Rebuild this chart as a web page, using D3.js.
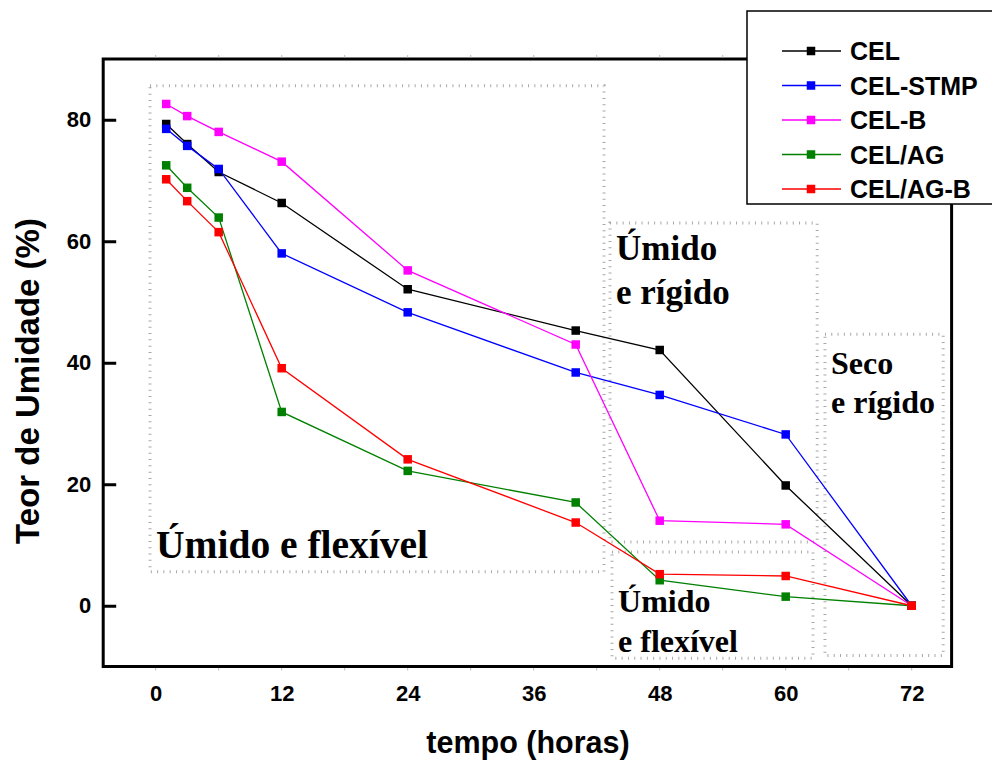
<!DOCTYPE html>
<html>
<head>
<meta charset="utf-8">
<script src="https://cdn.jsdelivr.net/npm/d3@7"></script>
<style>
  html, body { margin: 0; padding: 0; background: #fff; }
  svg { display: block; }
  .tickTxt { font-family: "Liberation Sans", Arial, sans-serif; font-weight: bold; font-size: 22px; fill: #000; }
  .axisTitle { font-family: "Liberation Sans", Arial, sans-serif; font-weight: bold; fill: #000; }
  .legTxt { font-family: "Liberation Sans", Arial, sans-serif; font-weight: bold; font-size: 25px; fill: #000; }
  .noteTxt { font-family: "Liberation Serif", "Times New Roman", serif; font-weight: bold; fill: #000; }
</style>
</head>
<body>
<div id="chart_div"></div>
<script>
// time points (horas)
var horas = [1, 3, 6, 12, 24, 40, 48, 60, 72];

// series names / colours
var seriesNames = ["CEL", "CEL-STMP", "CEL-B", "CEL/AG", "CEL/AG-B"];
var seriesColors = ["#000000", "#0000ff", "#ff00ff", "#008000", "#ff0000"];

// Teor de Umidade (%)
var celVals     = [79.3, 76.0, 71.4, 66.3, 52.1, 45.3, 42.1, 19.8, 0];
var celStmpVals = [78.5, 75.7, 71.9, 58.0, 48.3, 38.4, 34.7, 28.2, 0];
var celBVals    = [82.6, 80.6, 78.0, 73.1, 55.2, 43.0, 14.0, 13.4, 0];
var celAgVals   = [72.5, 68.8, 63.9, 31.9, 22.2, 17.0, 4.2, 1.5, 0];
var celAgBVals  = [70.2, 66.6, 61.5, 39.1, 24.1, 13.7, 5.2, 4.9, 0];

// axis ticks
var xTickVals = [0, 12, 24, 36, 48, 60, 72];
var xMinorVals = [0, 6, 12, 18, 24, 30, 36, 42, 48, 54, 60, 66, 72];
var yTickVals = [0, 20, 40, 60, 80];

// region boxes [x0, x1, y0(top), y1(bottom)] in data units, and their labels
var boxExtents = [
  [-0.54, 42.7, 85.6, 5.6],
  [43.27, 63.0, 63.0, 10.5],
  [43.46, 62.6, 8.85, -8.66],
  [63.74, 75.0, 44.7, -8.2]
];
var boxLabels = [
  ["Úmido e flexível"],
  ["Úmido", "e rígido"],
  ["Úmido", "e flexível"],
  ["Seco", "e rígido"]
];

(function () {
  'use strict'
  drawMoistureChart();
})()

function drawMoistureChart(){
  var allVals = [celVals, celStmpVals, celBVals, celAgVals, celAgBVals];

  var svg = d3.select("#chart_div").append("svg")
      .attr("width", 992)
      .attr("height", 760);

  var x = d3.scaleLinear().domain([-5, 75.8]).range([103.2, 951.6]);
  var y = d3.scaleLinear().domain([-10, 90]).range([666.5, 59]);

  // region boxes (gray tick-mark borders)
  var boxG = svg.append("g").attr("class", "boxG");
  boxExtents.forEach(function(b, i){
    boxG.append("rect")
      .attr("x", x(b[0]))
      .attr("y", y(b[2]))
      .attr("width", x(b[1]) - x(b[0]))
      .attr("height", y(b[3]) - y(b[2]))
      .attr("fill", "none")
      .attr("stroke", "#a8a8a8")
      .attr("stroke-width", 3)
      .attr("stroke-dasharray", "1,5.3");
  });

  // region labels
  var noteSizes = [39.5, 35, 32, 32];
  var noteFirstBase = [558, 260, 612, 374];
  var noteStep = [0, 44, 40, 39];
  boxLabels.forEach(function(lines, i){
    var t = svg.append("text")
      .attr("class", "noteTxt")
      .style("font-size", noteSizes[i] + "px");
    lines.forEach(function(s, j){
      t.append("tspan")
        .attr("x", x(boxExtents[i][0]) + 6)
        .attr("y", noteFirstBase[i] + j * noteStep[i])
        .text(s);
    });
  });

  // frame
  svg.append("rect")
    .attr("x", x(-5))
    .attr("y", y(90))
    .attr("width", x(75.8) - x(-5))
    .attr("height", y(-10) - y(90))
    .attr("fill", "none")
    .attr("stroke", "#000")
    .attr("stroke-width", 3);

  // faint minor ticks on top and bottom
  var minorG = svg.append("g").attr("class", "minorG");
  minorG.selectAll(".minB").data(xMinorVals).enter().append("line")
    .attr("x1", function(d){ return x(d); })
    .attr("x2", function(d){ return x(d); })
    .attr("y1", y(-10) + 1.5).attr("y2", y(-10) + 4)
    .attr("stroke", "#bbbbbb").attr("stroke-width", 1);
  minorG.selectAll(".minT").data(xMinorVals).enter().append("line")
    .attr("x1", function(d){ return x(d); })
    .attr("x2", function(d){ return x(d); })
    .attr("y1", y(90) - 1.5).attr("y2", y(90) - 4)
    .attr("stroke", "#bbbbbb").attr("stroke-width", 1);

  // left axis
  var leftAxis = svg.append("g")
    .attr("class", "d3LeftAxis")
    .attr("transform", "translate(" + x(-5) + ",0)")
    .call(d3.axisLeft(y).tickValues(yTickVals).tickSizeInner(-13).tickSizeOuter(0).tickPadding(12));
  leftAxis.selectAll(".domain").remove();
  leftAxis.selectAll(".tick line").attr("stroke", "#000").attr("stroke-width", 3);
  leftAxis.selectAll(".tick text").attr("class", "tickTxt");
  leftAxis.attr("font-size", null).attr("font-family", null);

  // bottom axis
  var bottomAxis = svg.append("g")
    .attr("class", "d3BottomAxis")
    .attr("transform", "translate(0," + y(-10) + ")")
    .call(d3.axisBottom(x).tickValues(xTickVals).tickSize(0).tickPadding(19));
  bottomAxis.selectAll(".domain").remove();
  bottomAxis.selectAll(".tick text").attr("class", "tickTxt");
  bottomAxis.attr("font-size", null).attr("font-family", null);

  // axis titles
  svg.append("text")
    .attr("class", "axisTitle")
    .attr("x", 528).attr("y", 753)
    .attr("text-anchor", "middle")
    .style("font-size", "30.5px")
    .text("tempo (horas)");

  svg.append("text")
    .attr("class", "axisTitle")
    .attr("transform", "translate(39,381) rotate(-90)")
    .attr("text-anchor", "middle")
    .style("font-size", "33px")
    .text("Teor de Umidade (%)");

  // series lines + markers
  var line = d3.line()
    .x(function(d){ return x(d.h); })
    .y(function(d){ return y(d.v); });

  allVals.forEach(function(vals, si){
    var pts = horas.map(function(h, i){ return { h: h, v: vals[i] }; });
    var g = svg.append("g").attr("class", "seriesG");
    g.append("path")
      .datum(pts)
      .attr("d", line)
      .attr("fill", "none")
      .attr("stroke", seriesColors[si])
      .attr("stroke-width", 1.3);
    g.selectAll("rect").data(pts).enter().append("rect")
      .attr("x", function(d){ return x(d.h) - 4.25; })
      .attr("y", function(d){ return y(d.v) - 4.25; })
      .attr("width", 8.5).attr("height", 8.5)
      .attr("fill", seriesColors[si]);
  });

  // legend
  var legG = svg.append("g").attr("class", "legendG");
  legG.append("rect")
    .attr("x", 747).attr("y", 11)
    .attr("width", 260).attr("height", 193)
    .attr("fill", "#fff")
    .attr("stroke", "#000")
    .attr("stroke-width", 1.5);
  seriesNames.forEach(function(name, i){
    var cy = 51 + i * 34.5;
    legG.append("line")
      .attr("x1", 782).attr("x2", 841)
      .attr("y1", cy).attr("y2", cy)
      .attr("stroke", seriesColors[i]).attr("stroke-width", 1.3);
    legG.append("rect")
      .attr("x", 811 - 4.25).attr("y", cy - 4.25)
      .attr("width", 8.5).attr("height", 8.5)
      .attr("fill", seriesColors[i]);
    legG.append("text")
      .attr("class", "legTxt")
      .attr("x", 850).attr("y", cy)
      .attr("dy", "0.36em")
      .text(name);
  });
}
</script>
</body>
</html>
